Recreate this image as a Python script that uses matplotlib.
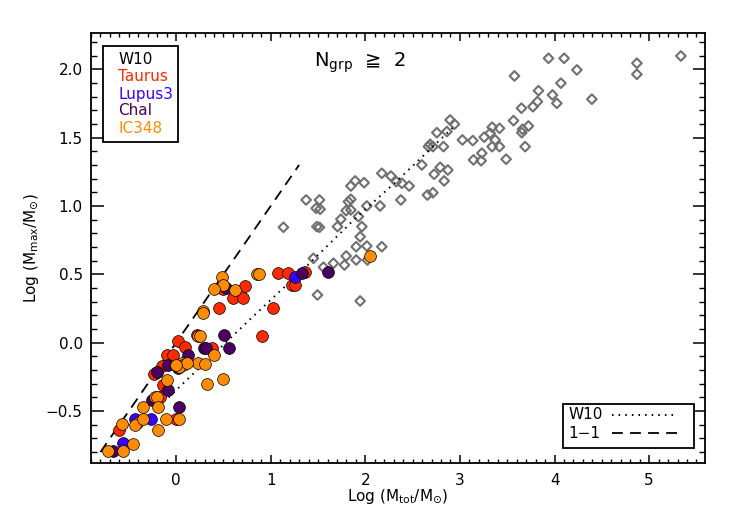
import matplotlib
matplotlib.use("Agg")
import matplotlib.pyplot as plt
from matplotlib.patches import Rectangle
from matplotlib.ticker import MultipleLocator

# W10 compilation: log total cluster mass vs log most-massive star
w10_logmtot = [5.335, 4.870, 4.870, 3.936, 4.101, 4.236, 3.576, 4.394, 4.067, 3.830,
               3.978, 4.024, 3.819, 3.771, 3.650, 3.566, 3.724, 3.661, 3.654, 3.689,
               3.488, 3.418, 3.340, 3.319, 3.256, 3.372, 3.340, 3.418, 3.231, 3.224,
               3.143, 3.136, 3.026, 2.896, 2.942, 2.862, 2.756, 2.826, 2.685, 2.714,
               2.667, 2.597, 2.791, 2.872, 2.727, 2.833, 2.714, 2.656, 2.375, 2.463,
               2.386, 2.326, 2.270, 2.174, 1.987, 1.892, 1.847, 1.847, 1.821, 1.797,
               1.741, 1.705, 1.847, 2.016, 2.156, 1.927, 1.963, 1.945, 1.903, 2.016,
               2.174, 1.797, 1.903, 2.022, 1.779, 1.663, 1.557, 1.451, 1.494, 1.945,
               1.374, 1.515, 1.480, 1.522, 1.487, 1.515, 1.134]
w10_logmmax = [2.097, 2.044, 1.963, 2.080, 2.080, 1.995, 1.951, 1.781, 1.898, 1.843,
               1.812, 1.751, 1.763, 1.726, 1.715, 1.624, 1.585, 1.561, 1.536, 1.434,
               1.342, 1.568, 1.576, 1.532, 1.503, 1.483, 1.434, 1.434, 1.386, 1.331,
               1.337, 1.478, 1.483, 1.629, 1.598, 1.544, 1.536, 1.434, 1.451, 1.434,
               1.434, 1.300, 1.283, 1.263, 1.232, 1.183, 1.097, 1.080, 1.044, 1.146,
               1.166, 1.178, 1.219, 1.239, 1.170, 1.183, 1.146, 1.049, 1.031, 0.966,
               0.903, 0.849, 0.971, 1.000, 1.000, 0.922, 0.849, 0.775, 0.702, 0.707,
               0.702, 0.634, 0.605, 0.605, 0.568, 0.581, 0.552, 0.617, 0.349, 0.305,
               1.044, 1.044, 0.983, 0.976, 0.849, 0.844, 0.844]

taurus_logmtot = [1.081, 1.187, 1.364, 1.223, 1.258, 1.022, 0.911, 0.729, 0.606, 0.705,
                  0.458, 0.494, 0.219, 0.024, 0.095, 0.377, -0.098, -0.029, -0.151, -0.204,
                  -0.233, -0.134, -0.169, -0.005, -0.599]
taurus_logmmax = [0.512, 0.512, 0.515, 0.422, 0.422, 0.257, 0.051, 0.418, 0.327, 0.327,
                  0.256, 0.391, 0.054, 0.012, -0.035, -0.041, -0.090, -0.090, -0.170, -0.212,
                  -0.231, -0.309, -0.399, -0.560, -0.639]

lupus3_logmtot = [1.258, -0.433, -0.264, -0.563]
lupus3_logmmax = [0.483, -0.558, -0.560, -0.736]

chai_logmtot = [1.334, 1.604, 0.529, 0.511, 0.563, 0.296, 0.317, 0.122, -0.081, 0.024,
                -0.204, -0.081, -0.257, 0.035, -0.663]
chai_logmmax = [0.512, 0.514, 0.402, 0.054, -0.039, -0.041, -0.041, -0.090, -0.163, -0.187,
                -0.218, -0.346, -0.419, -0.473, -0.792]

ic348_logmtot = [2.045, 0.853, 0.881, 0.483, 0.500, 0.405, 0.624, 0.282, 0.282, 0.236,
                 0.254, 0.402, 0.236, 0.307, 0.060, 0.077, 0.035, 0.113, 0.000, 0.325,
                 0.494, -0.092, -0.222, -0.204, -0.346, -0.187, -0.415, -0.433, -0.346, -0.106,
                 0.035, -0.193, -0.568, -0.451, -0.716, -0.557]
ic348_logmmax = [0.636, 0.503, 0.503, 0.478, 0.422, 0.391, 0.386, 0.234, 0.219, 0.051,
                 0.051, -0.090, -0.152, -0.156, -0.151, -0.163, -0.176, -0.151, -0.163, -0.302,
                 -0.268, -0.273, -0.399, -0.395, -0.473, -0.473, -0.590, -0.602, -0.560, -0.560,
                 -0.560, -0.639, -0.597, -0.743, -0.792, -0.792]

# W10 relation (dotted) and 1-1 line (dashed)
w10_rel_x = [-0.08, 0.78, 1.38, 1.91, 2.33, 2.95]
w10_rel_y = [-0.40, 0.17, 0.56, 0.92, 1.18, 1.59]
one_x = [-0.80, 1.30]
one_y = [-0.80, 1.30]

groups = ["Taurus", "Lupus3", "ChaI", "IC348"]
colors = {"Taurus": "#ff2a00", "Lupus3": "#3a00ff", "ChaI": "#4a0060", "IC348": "#ff8c00"}

fig = plt.figure(figsize=(7.32, 5.23), dpi=100)
ax = fig.add_axes([0.1243, 0.1147, 0.8388, 0.8222])

ax.scatter(w10_logmtot, w10_logmmax, marker="D", s=24, facecolors="none",
           edgecolors="#707070", linewidths=1.5, zorder=2)
ax.plot(w10_rel_x, w10_rel_y, color="black", linestyle=(0, (0.8, 2.6)),
        linewidth=1.4, zorder=3)
ax.plot(one_x, one_y, color="black", linestyle=(0, (6, 4)), linewidth=1.3, zorder=3)

data = {
    "Taurus": (taurus_logmtot, taurus_logmmax),
    "Lupus3": (lupus3_logmtot, lupus3_logmmax),
    "ChaI": (chai_logmtot, chai_logmmax),
    "IC348": (ic348_logmtot, ic348_logmmax),
}
for g in groups:
    xs, ys = data[g]
    ax.scatter(xs, ys, s=72, color=colors[g], edgecolors="black",
               linewidths=0.5, zorder=4)

ax.set_xlim(-0.9, 5.59)
ax.set_ylim(-0.88, 2.265)
ax.xaxis.set_major_locator(MultipleLocator(1))
ax.xaxis.set_minor_locator(MultipleLocator(0.1))
ax.yaxis.set_major_locator(MultipleLocator(0.5))
ax.yaxis.set_minor_locator(MultipleLocator(0.1))
ax.yaxis.set_major_formatter(plt.FuncFormatter(lambda v, p: f"{v:.1f}".replace("-", "\u2212")))
ax.tick_params(axis="x", which="major", direction="in", length=6, width=1.1,
               top=True, labelsize=11, pad=7)
ax.tick_params(axis="x", which="minor", direction="in", length=3, width=1.0, top=True)
ax.tick_params(axis="y", which="major", direction="in", length=9, width=1.1,
               right=True, labelsize=11, pad=6)
ax.tick_params(axis="y", which="minor", direction="in", length=4.5, width=1.0, right=True)
for sp in ax.spines.values():
    sp.set_linewidth(1.3)

ax.set_xlabel(r"Log (M$_{\mathrm{tot}}$/M$_{\odot}$)", fontsize=11, labelpad=0)
ax.set_ylabel(r"Log (M$_{\mathrm{max}}$/M$_{\odot}$)", fontsize=11, labelpad=3.5)

ax.text(0.438, 0.930, r"N$_{\mathrm{grp}}$  ≧  2", transform=ax.transAxes,
        fontsize=14, ha="center", va="center")

# top-left legend
ax.add_patch(Rectangle((0.019, 0.747), 0.122, 0.223, transform=ax.transAxes,
                       fill=False, edgecolor="black", linewidth=1.3, zorder=5))
leg_items = [("W10", "black")] + [(g, colors[g]) for g in groups]
leg_y = [0.939, 0.898, 0.858, 0.819, 0.778]
for (name, c), yy in zip(leg_items, leg_y):
    ax.text(0.0445, yy, name, color=c, fontsize=11, transform=ax.transAxes,
            ha="left", va="center", zorder=6)

# bottom-right legend
ax.add_patch(Rectangle((0.768, 0.034), 0.214, 0.103, transform=ax.transAxes,
                       facecolor="white", edgecolor="black", linewidth=1.3, zorder=5))
ax.text(0.777, 0.112, "W10", fontsize=11, transform=ax.transAxes, va="center", zorder=6)
ax.text(0.777, 0.069, "1\u22121", fontsize=11, transform=ax.transAxes, va="center", zorder=6)
ax.plot([0.848, 0.954], [0.112, 0.112], color="black", linestyle=(0, (0.8, 2.6)),
        linewidth=1.4, transform=ax.transAxes, zorder=6)
ax.plot([0.848, 0.954], [0.069, 0.069], color="black", linestyle=(0, (6, 4)),
        linewidth=1.3, transform=ax.transAxes, zorder=6)

fig.savefig("out.png", dpi=100)
